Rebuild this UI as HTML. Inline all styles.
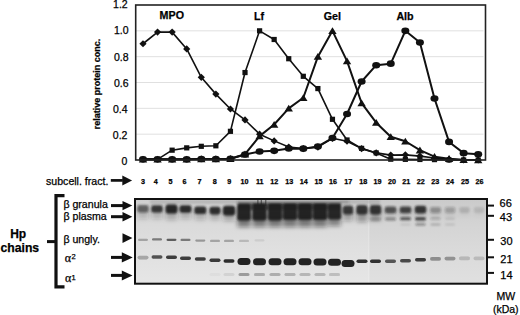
<!DOCTYPE html>
<html><head><meta charset="utf-8"><style>
html,body{margin:0;padding:0;background:#fff;}
body{width:520px;height:315px;position:relative;overflow:hidden;font-family:"Liberation Sans",sans-serif;color:#000;-webkit-text-stroke:0.25px #000;}
.abs{position:absolute;white-space:nowrap;}
.yl{position:absolute;font-size:10.5px;line-height:13px;text-align:right;}
.xl{position:absolute;top:176.9px;width:20px;text-align:center;font-size:7.2px;font-weight:bold;line-height:10px;}
.lbl{position:absolute;font-size:10.7px;font-weight:bold;line-height:13px;}
.mw{position:absolute;font-size:11px;line-height:12px;}
.gl{position:absolute;font-size:10.6px;line-height:12px;white-space:nowrap;}
.gk{position:absolute;font-family:"Liberation Serif",serif;font-size:12px;line-height:12px;}
.sp{position:absolute;font-size:7.5px;line-height:12px;}
.ytitle{position:absolute;left:97.2px;top:84px;transform:translate(-50%,-50%) rotate(-90deg);font-size:9px;font-weight:bold;white-space:nowrap;}
</style></head><body>
<svg class="abs" style="left:0;top:0" width="520" height="170" viewBox="0 0 520 170">
<line x1="135.7" y1="134.17" x2="483.5" y2="134.17" stroke="#e0e0e0" stroke-width="1"/>
<line x1="135.7" y1="108.33" x2="483.5" y2="108.33" stroke="#e0e0e0" stroke-width="1"/>
<line x1="135.7" y1="82.50" x2="483.5" y2="82.50" stroke="#e0e0e0" stroke-width="1"/>
<line x1="135.7" y1="56.67" x2="483.5" y2="56.67" stroke="#e0e0e0" stroke-width="1"/>
<line x1="135.7" y1="30.83" x2="483.5" y2="30.83" stroke="#e0e0e0" stroke-width="1"/>
<polyline points="142.99,43.75 157.56,32.12 172.14,32.12 186.71,48.92 201.29,77.33 215.86,94.12 230.44,108.98 245.01,119.96 259.59,134.17 274.16,140.88 288.74,147.08 303.31,148.63 317.89,147.08 332.46,138.30 347.04,141.27 361.61,148.63 376.19,152.90 390.76,155.09 405.34,154.83 419.91,156.12 434.49,158.06 449.06,159.35 463.64,160.00 478.21,160.00" fill="none" stroke="#111" stroke-width="1.6" stroke-linejoin="round"/>
<polyline points="142.99,159.35 157.56,159.35 172.14,150.18 186.71,147.86 201.29,146.31 215.86,145.79 230.44,131.32 245.01,72.55 259.59,30.83 274.16,39.49 288.74,58.73 303.31,76.30 317.89,88.57 332.46,119.31 347.04,139.98 361.61,148.38 376.19,152.90 390.76,159.22 405.34,159.35 419.91,159.48 434.49,159.61 449.06,160.00 463.64,160.00 478.21,160.00" fill="none" stroke="#111" stroke-width="1.6" stroke-linejoin="round"/>
<polyline points="142.99,159.35 157.56,159.35 172.14,159.35 186.71,159.35 201.29,158.97 215.86,158.97 230.44,158.71 245.01,154.19 259.59,136.10 274.16,124.48 288.74,108.33 303.31,97.74 317.89,56.67 332.46,30.83 347.04,61.06 361.61,103.04 376.19,122.67 390.76,136.75 405.34,141.27 419.91,150.18 434.49,156.64 449.06,158.71 463.64,159.74 478.21,160.00" fill="none" stroke="#111" stroke-width="2.0" stroke-linejoin="round"/>
<polyline points="142.99,159.35 157.56,159.35 172.14,159.35 186.71,159.35 201.29,158.97 215.86,158.97 230.44,158.71 245.01,154.57 259.59,151.47 274.16,150.83 288.74,148.50 303.31,148.63 317.89,146.44 332.46,138.04 347.04,114.02 361.61,81.47 376.19,65.19 390.76,63.64 405.34,30.83 419.91,42.46 434.49,98.52 449.06,141.92 463.64,153.15 478.21,154.32" fill="none" stroke="#111" stroke-width="2.0" stroke-linejoin="round"/>
<path d="M142.99 40.15L146.59 43.75L142.99 47.35L139.39 43.75Z" fill="#111"/>
<path d="M157.56 28.52L161.16 32.12L157.56 35.73L153.96 32.12Z" fill="#111"/>
<path d="M172.14 28.52L175.74 32.12L172.14 35.73L168.54 32.12Z" fill="#111"/>
<path d="M186.71 45.32L190.31 48.92L186.71 52.52L183.11 48.92Z" fill="#111"/>
<path d="M201.29 73.73L204.89 77.33L201.29 80.93L197.69 77.33Z" fill="#111"/>
<path d="M215.86 90.53L219.46 94.12L215.86 97.72L212.26 94.12Z" fill="#111"/>
<path d="M230.44 105.38L234.04 108.98L230.44 112.58L226.84 108.98Z" fill="#111"/>
<path d="M245.01 116.36L248.61 119.96L245.01 123.56L241.41 119.96Z" fill="#111"/>
<path d="M259.59 130.57L263.19 134.17L259.59 137.77L255.99 134.17Z" fill="#111"/>
<path d="M274.16 137.28L277.76 140.88L274.16 144.48L270.56 140.88Z" fill="#111"/>
<path d="M288.74 143.48L292.34 147.08L288.74 150.68L285.14 147.08Z" fill="#111"/>
<path d="M303.31 145.03L306.91 148.63L303.31 152.23L299.71 148.63Z" fill="#111"/>
<path d="M317.89 143.48L321.49 147.08L317.89 150.68L314.29 147.08Z" fill="#111"/>
<path d="M332.46 134.70L336.06 138.30L332.46 141.90L328.86 138.30Z" fill="#111"/>
<path d="M347.04 137.67L350.64 141.27L347.04 144.87L343.44 141.27Z" fill="#111"/>
<path d="M361.61 145.03L365.21 148.63L361.61 152.23L358.01 148.63Z" fill="#111"/>
<path d="M376.19 149.30L379.79 152.90L376.19 156.50L372.59 152.90Z" fill="#111"/>
<path d="M390.76 151.49L394.36 155.09L390.76 158.69L387.16 155.09Z" fill="#111"/>
<path d="M405.34 151.23L408.94 154.83L405.34 158.43L401.74 154.83Z" fill="#111"/>
<path d="M419.91 152.53L423.51 156.12L419.91 159.72L416.31 156.12Z" fill="#111"/>
<path d="M434.49 154.46L438.09 158.06L434.49 161.66L430.89 158.06Z" fill="#111"/>
<path d="M449.06 155.75L452.66 159.35L449.06 162.95L445.46 159.35Z" fill="#111"/>
<path d="M463.64 156.40L467.24 160.00L463.64 163.60L460.04 160.00Z" fill="#111"/>
<path d="M478.21 156.40L481.81 160.00L478.21 163.60L474.61 160.00Z" fill="#111"/>
<rect x="140.39" y="156.75" width="5.2" height="5.2" fill="#111"/>
<rect x="154.96" y="156.75" width="5.2" height="5.2" fill="#111"/>
<rect x="169.54" y="147.58" width="5.2" height="5.2" fill="#111"/>
<rect x="184.11" y="145.26" width="5.2" height="5.2" fill="#111"/>
<rect x="198.69" y="143.71" width="5.2" height="5.2" fill="#111"/>
<rect x="213.26" y="143.19" width="5.2" height="5.2" fill="#111"/>
<rect x="227.84" y="128.72" width="5.2" height="5.2" fill="#111"/>
<rect x="242.41" y="69.95" width="5.2" height="5.2" fill="#111"/>
<rect x="256.99" y="28.23" width="5.2" height="5.2" fill="#111"/>
<rect x="271.56" y="36.89" width="5.2" height="5.2" fill="#111"/>
<rect x="286.14" y="56.13" width="5.2" height="5.2" fill="#111"/>
<rect x="300.71" y="73.70" width="5.2" height="5.2" fill="#111"/>
<rect x="315.29" y="85.97" width="5.2" height="5.2" fill="#111"/>
<rect x="329.86" y="116.71" width="5.2" height="5.2" fill="#111"/>
<rect x="344.44" y="137.38" width="5.2" height="5.2" fill="#111"/>
<rect x="359.01" y="145.78" width="5.2" height="5.2" fill="#111"/>
<rect x="373.59" y="150.30" width="5.2" height="5.2" fill="#111"/>
<rect x="388.16" y="156.62" width="5.2" height="5.2" fill="#111"/>
<rect x="402.74" y="156.75" width="5.2" height="5.2" fill="#111"/>
<rect x="417.31" y="156.88" width="5.2" height="5.2" fill="#111"/>
<rect x="431.89" y="157.01" width="5.2" height="5.2" fill="#111"/>
<rect x="446.46" y="157.40" width="5.2" height="5.2" fill="#111"/>
<rect x="461.04" y="157.40" width="5.2" height="5.2" fill="#111"/>
<rect x="475.61" y="157.40" width="5.2" height="5.2" fill="#111"/>
<path d="M142.99 155.75L147.19 162.55L138.79 162.55Z" fill="#111"/>
<path d="M157.56 155.75L161.76 162.55L153.36 162.55Z" fill="#111"/>
<path d="M172.14 155.75L176.34 162.55L167.94 162.55Z" fill="#111"/>
<path d="M186.71 155.75L190.91 162.55L182.51 162.55Z" fill="#111"/>
<path d="M201.29 155.37L205.49 162.17L197.09 162.17Z" fill="#111"/>
<path d="M215.86 155.37L220.06 162.17L211.66 162.17Z" fill="#111"/>
<path d="M230.44 155.11L234.64 161.91L226.24 161.91Z" fill="#111"/>
<path d="M245.01 150.59L249.21 157.39L240.81 157.39Z" fill="#111"/>
<path d="M259.59 132.50L263.79 139.30L255.39 139.30Z" fill="#111"/>
<path d="M274.16 120.88L278.36 127.68L269.96 127.68Z" fill="#111"/>
<path d="M288.74 104.73L292.94 111.53L284.54 111.53Z" fill="#111"/>
<path d="M303.31 94.14L307.51 100.94L299.11 100.94Z" fill="#111"/>
<path d="M317.89 53.07L322.09 59.87L313.69 59.87Z" fill="#111"/>
<path d="M332.46 27.23L336.66 34.03L328.26 34.03Z" fill="#111"/>
<path d="M347.04 57.46L351.24 64.26L342.84 64.26Z" fill="#111"/>
<path d="M361.61 99.44L365.81 106.24L357.41 106.24Z" fill="#111"/>
<path d="M376.19 119.07L380.39 125.87L371.99 125.87Z" fill="#111"/>
<path d="M390.76 133.15L394.96 139.95L386.56 139.95Z" fill="#111"/>
<path d="M405.34 137.67L409.54 144.47L401.14 144.47Z" fill="#111"/>
<path d="M419.91 146.58L424.11 153.38L415.71 153.38Z" fill="#111"/>
<path d="M434.49 153.04L438.69 159.84L430.29 159.84Z" fill="#111"/>
<path d="M449.06 155.11L453.26 161.91L444.86 161.91Z" fill="#111"/>
<path d="M463.64 156.14L467.84 162.94L459.44 162.94Z" fill="#111"/>
<path d="M478.21 156.40L482.41 163.20L474.01 163.20Z" fill="#111"/>
<ellipse cx="142.99" cy="159.35" rx="4" ry="3.3" fill="#111"/>
<ellipse cx="157.56" cy="159.35" rx="4" ry="3.3" fill="#111"/>
<ellipse cx="172.14" cy="159.35" rx="4" ry="3.3" fill="#111"/>
<ellipse cx="186.71" cy="159.35" rx="4" ry="3.3" fill="#111"/>
<ellipse cx="201.29" cy="158.97" rx="4" ry="3.3" fill="#111"/>
<ellipse cx="215.86" cy="158.97" rx="4" ry="3.3" fill="#111"/>
<ellipse cx="230.44" cy="158.71" rx="4" ry="3.3" fill="#111"/>
<ellipse cx="245.01" cy="154.57" rx="4" ry="3.3" fill="#111"/>
<ellipse cx="259.59" cy="151.47" rx="4" ry="3.3" fill="#111"/>
<ellipse cx="274.16" cy="150.83" rx="4" ry="3.3" fill="#111"/>
<ellipse cx="288.74" cy="148.50" rx="4" ry="3.3" fill="#111"/>
<ellipse cx="303.31" cy="148.63" rx="4" ry="3.3" fill="#111"/>
<ellipse cx="317.89" cy="146.44" rx="4" ry="3.3" fill="#111"/>
<ellipse cx="332.46" cy="138.04" rx="4" ry="3.3" fill="#111"/>
<ellipse cx="347.04" cy="114.02" rx="4" ry="3.3" fill="#111"/>
<ellipse cx="361.61" cy="81.47" rx="4" ry="3.3" fill="#111"/>
<ellipse cx="376.19" cy="65.19" rx="4" ry="3.3" fill="#111"/>
<ellipse cx="390.76" cy="63.64" rx="4" ry="3.3" fill="#111"/>
<ellipse cx="405.34" cy="30.83" rx="4" ry="3.3" fill="#111"/>
<ellipse cx="419.91" cy="42.46" rx="4" ry="3.3" fill="#111"/>
<ellipse cx="434.49" cy="98.52" rx="4" ry="3.3" fill="#111"/>
<ellipse cx="449.06" cy="141.92" rx="4" ry="3.3" fill="#111"/>
<ellipse cx="463.64" cy="153.15" rx="4" ry="3.3" fill="#111"/>
<ellipse cx="478.21" cy="154.32" rx="4" ry="3.3" fill="#111"/>
<rect x="135.7" y="5.0" width="349.8" height="155.0" fill="none" stroke="#222" stroke-width="1.6"/>
</svg>
<div class="yl" style="top:-2.1px;right:392.3px">1.2</div><div class="yl" style="top:24.1px;right:391.4px">1.0</div><div class="yl" style="top:50.7px;right:391.4px">0.8</div><div class="yl" style="top:77.2px;right:391.4px">0.6</div><div class="yl" style="top:103.3px;right:392.4px">0.4</div><div class="yl" style="top:129.2px;right:392.6px">0.2</div><div class="yl" style="top:155.4px;right:392.6px">0</div>
<div class="ytitle">relative protein conc.</div>
<div class="lbl" style="left:159.6px;top:9.2px">MPO</div>
<div class="lbl" style="left:254px;top:9.9px">Lf</div>
<div class="lbl" style="left:323.8px;top:9.8px">Gel</div>
<div class="lbl" style="left:396.4px;top:9.8px">Alb</div>
<div class="abs" style="left:46px;top:174.7px;font-size:10.6px;line-height:13px;">subcell. fract.</div>
<div class="xl" style="left:133.0px">3</div><div class="xl" style="left:145.7px">4</div><div class="xl" style="left:160.6px">5</div><div class="xl" style="left:174.6px">6</div><div class="xl" style="left:189.4px">7</div><div class="xl" style="left:204.8px">8</div><div class="xl" style="left:219.2px">9</div><div class="xl" style="left:234.6px">10</div><div class="xl" style="left:249.7px">11</div><div class="xl" style="left:264.2px">12</div><div class="xl" style="left:279.3px">13</div><div class="xl" style="left:293.8px">14</div><div class="xl" style="left:308.6px">15</div><div class="xl" style="left:323.1px">16</div><div class="xl" style="left:338.2px">17</div><div class="xl" style="left:353.2px">18</div><div class="xl" style="left:367.6px">19</div><div class="xl" style="left:381.9px">20</div><div class="xl" style="left:396.2px">21</div><div class="xl" style="left:410.8px">22</div><div class="xl" style="left:425.3px">23</div><div class="xl" style="left:439.9px">24</div><div class="xl" style="left:455.0px">25</div><div class="xl" style="left:469.5px">26</div>
<svg class="abs" style="left:0;top:0" width="520" height="315" viewBox="0 0 520 315">
<defs><filter id="bf" x="-50%" y="-50%" width="200%" height="200%"><feGaussianBlur stdDeviation="0.9"/></filter><filter id="bf3" x="-50%" y="-50%" width="200%" height="200%"><feGaussianBlur stdDeviation="2"/></filter><filter id="bf2" x="-50%" y="-50%" width="200%" height="200%"><feGaussianBlur stdDeviation="0.6"/></filter><linearGradient id="bg" x1="0" y1="0" x2="0" y2="1"><stop offset="0" stop-color="#cfcfcf"/><stop offset="0.3" stop-color="#dadada"/><stop offset="0.6" stop-color="#e0e0e0"/><stop offset="1" stop-color="#e6e6e6"/></linearGradient></defs>
<rect x="135" y="199" width="352" height="85" fill="url(#bg)"/>
<rect x="369.3" y="199" width="117.7" height="85" fill="#000" fill-opacity="0.025"/>
<line x1="368.8" y1="199" x2="368.8" y2="284" stroke="#fff" stroke-opacity="0.25" stroke-width="1"/>
<g filter="url(#bf3)" fill="#1c1c1c">
<rect x="137.8" y="208.5" width="10.5" height="10.5" fill-opacity="0.18"/>
<rect x="151.8" y="208.5" width="10.5" height="10.5" fill-opacity="0.2"/>
<rect x="166.0" y="209.5" width="11" height="10.5" fill-opacity="0.25"/>
<rect x="180.0" y="208.8" width="11" height="10.2" fill-opacity="0.22"/>
<rect x="194.8" y="210.0" width="11" height="10.0" fill-opacity="0.22"/>
<rect x="210.0" y="210.5" width="10" height="9.5" fill-opacity="0.22"/>
<rect x="223.2" y="211.5" width="11.5" height="9.5" fill-opacity="0.28"/>
<rect x="237.5" y="216.5" width="13" height="10.5" fill-opacity="0.5"/>
<rect x="252.8" y="216.5" width="13.5" height="10.5" fill-opacity="0.5"/>
<rect x="268.2" y="216.5" width="13.5" height="10.5" fill-opacity="0.5"/>
<rect x="283.2" y="216.0" width="13.5" height="11.0" fill-opacity="0.5"/>
<rect x="298.2" y="216.0" width="13.5" height="11.0" fill-opacity="0.5"/>
<rect x="313.2" y="216.0" width="13.5" height="11.0" fill-opacity="0.5"/>
<rect x="328.2" y="215.5" width="12.5" height="10.5" fill-opacity="0.45"/>
<rect x="343.2" y="210.5" width="9.5" height="10.5" fill-opacity="0.3"/>
<rect x="356.8" y="210.5" width="10.5" height="11.5" fill-opacity="0.35"/>
<rect x="370.2" y="210.5" width="10.5" height="10.5" fill-opacity="0.3"/>
<rect x="385.2" y="209.3" width="10.5" height="6.7" fill-opacity="0.2"/>
<rect x="400.2" y="209.3" width="10.5" height="6.7" fill-opacity="0.2"/>
<rect x="415.2" y="209.5" width="10.5" height="6.5" fill-opacity="0.2"/>
<rect x="430.5" y="209.0" width="10" height="7.0" fill-opacity="0.1"/>
<rect x="445.2" y="209.0" width="9.5" height="7.0" fill-opacity="0.08"/>
<rect x="459.8" y="209.0" width="9.5" height="7.0" fill-opacity="0.04"/>
<rect x="474.2" y="209.0" width="9.5" height="7.0" fill-opacity="0.03"/>
</g><g filter="url(#bf)" fill="#1c1c1c">
<rect x="238" y="203" width="103" height="7" fill-opacity="0.55"/>
<rect x="150" y="200" width="230" height="4" fill-opacity="0.12"/>
<rect x="237" y="200" width="112" height="4" fill-opacity="0.2"/>
<rect x="137.2" y="205.0" width="11.5" height="7.5" rx="2.3" fill-opacity="0.6"/>
<rect x="151.2" y="205.3" width="11.5" height="7.2" rx="2.2" fill-opacity="0.86"/>
<rect x="165.5" y="204.5" width="12" height="9.0" rx="2.8" fill-opacity="0.95"/>
<rect x="179.5" y="205.3" width="12" height="7.5" rx="2.3" fill-opacity="0.92"/>
<rect x="194.3" y="206.5" width="12" height="7.5" rx="2.3" fill-opacity="0.9"/>
<rect x="209.5" y="206.8" width="11" height="7.7" rx="2.4" fill-opacity="0.9"/>
<rect x="222.8" y="205.8" width="12.5" height="9.7" rx="3.0" fill-opacity="0.95"/>
<rect x="237.0" y="203.5" width="14" height="17.0" rx="2.8" fill-opacity="0.96"/>
<rect x="252.2" y="203.0" width="14.5" height="17.5" rx="2.8" fill-opacity="0.97"/>
<rect x="267.8" y="203.0" width="14.5" height="17.5" rx="2.8" fill-opacity="0.97"/>
<rect x="282.8" y="203.0" width="14.5" height="17.0" rx="2.8" fill-opacity="0.97"/>
<rect x="297.8" y="203.0" width="14.5" height="17.0" rx="2.8" fill-opacity="0.97"/>
<rect x="312.8" y="203.0" width="14.5" height="17.0" rx="2.8" fill-opacity="0.97"/>
<rect x="327.8" y="203.5" width="13.5" height="16.0" rx="2.8" fill-opacity="0.95"/>
<rect x="342.8" y="205.5" width="10.5" height="9.0" rx="2.8" fill-opacity="0.82"/>
<rect x="356.2" y="205.0" width="11.5" height="9.5" rx="3.0" fill-opacity="0.88"/>
<rect x="369.8" y="205.0" width="11.5" height="9.5" rx="3.0" fill-opacity="0.88"/>
<rect x="384.8" y="206.5" width="11.5" height="6.8" rx="2.1" fill-opacity="0.68"/>
<rect x="399.8" y="206.5" width="11.5" height="6.8" rx="2.1" fill-opacity="0.76"/>
<rect x="414.8" y="205.8" width="11.5" height="7.7" rx="2.4" fill-opacity="0.84"/>
<rect x="430.0" y="207.0" width="11" height="6.0" rx="1.9" fill-opacity="0.32"/>
<rect x="444.8" y="207.0" width="10.5" height="6.0" rx="1.9" fill-opacity="0.24"/>
<rect x="459.2" y="207.0" width="10.5" height="6.0" rx="1.9" fill-opacity="0.13"/>
<rect x="473.8" y="207.0" width="10.5" height="6.0" rx="1.9" fill-opacity="0.1"/>
<rect x="370.2" y="218.1" width="10.5" height="2.4" rx="1.2" fill-opacity="0.3"/>
<rect x="385.0" y="217.7" width="11" height="2.8" rx="1.4" fill-opacity="0.45"/>
<rect x="400.0" y="217.3" width="11" height="3" rx="1.5" fill-opacity="0.68"/>
<rect x="415.0" y="217.2" width="11" height="3.2" rx="1.6" fill-opacity="0.82"/>
<rect x="430.5" y="217.4" width="10" height="2.4" rx="1.2" fill-opacity="0.28"/>
<rect x="445.0" y="217.5" width="10" height="2.2" rx="1.1" fill-opacity="0.12"/>
<rect x="415.5" y="223.3" width="10" height="2.2" rx="1.1" fill-opacity="0.45"/>
<rect x="430.5" y="223.6" width="10" height="2" rx="1.0" fill-opacity="0.22"/>
<rect x="445.0" y="223.6" width="10" height="2" rx="1.0" fill-opacity="0.12"/>
<rect x="400.5" y="223.5" width="10" height="2" rx="1.0" fill-opacity="0.1"/>
</g><g filter="url(#bf2)" fill="#1c1c1c">
<rect x="138.0" y="238.7" width="10" height="2.3" rx="1.15" fill-opacity="0.3"/>
<rect x="152.0" y="238.3" width="10" height="2.3" rx="1.15" fill-opacity="0.52"/>
<rect x="166.5" y="238.7" width="10" height="2.3" rx="1.15" fill-opacity="0.66"/>
<rect x="180.5" y="238.8" width="10" height="2.3" rx="1.15" fill-opacity="0.5"/>
<rect x="195.3" y="239.4" width="10" height="2.3" rx="1.15" fill-opacity="0.36"/>
<rect x="210.0" y="239.8" width="10" height="2.3" rx="1.15" fill-opacity="0.3"/>
<rect x="224.0" y="239.8" width="10" height="2.3" rx="1.15" fill-opacity="0.3"/>
<rect x="239.0" y="239.8" width="10" height="2.3" rx="1.15" fill-opacity="0.2"/>
<rect x="254.5" y="239.3" width="10" height="2.3" rx="1.15" fill-opacity="0.08"/>
<rect x="137.5" y="255.8" width="11" height="3.6" rx="1.8" fill-opacity="0.3"/>
<rect x="151.5" y="255.2" width="11" height="3.6" rx="1.8" fill-opacity="0.72"/>
<rect x="166.0" y="255.5" width="11" height="3.6" rx="1.8" fill-opacity="0.82"/>
<rect x="180.0" y="256.5" width="11" height="3.6" rx="1.8" fill-opacity="0.82"/>
<rect x="194.8" y="257.2" width="11" height="3.6" rx="1.8" fill-opacity="0.82"/>
<rect x="209.5" y="258.5" width="11" height="3.6" rx="1.8" fill-opacity="0.86"/>
<rect x="223.5" y="259.2" width="11" height="3.6" rx="1.8" fill-opacity="0.92"/>
<rect x="237.5" y="258.0" width="13" height="7" rx="3.5" fill-opacity="0.97"/>
<rect x="253.0" y="258.3" width="13" height="7" rx="3.5" fill-opacity="0.97"/>
<rect x="268.5" y="258.3" width="13" height="7" rx="3.5" fill-opacity="0.97"/>
<rect x="283.5" y="258.3" width="13" height="7" rx="3.5" fill-opacity="0.97"/>
<rect x="298.5" y="258.3" width="13" height="7" rx="3.5" fill-opacity="0.97"/>
<rect x="313.5" y="258.5" width="13" height="7" rx="3.5" fill-opacity="0.97"/>
<rect x="328.0" y="258.7" width="13" height="7" rx="3.5" fill-opacity="0.97"/>
<rect x="341.5" y="260.0" width="13" height="7" rx="3.5" fill-opacity="0.97"/>
<rect x="356.5" y="259.5" width="11" height="3.6" rx="1.8" fill-opacity="0.9"/>
<rect x="370.0" y="259.5" width="11" height="3.6" rx="1.8" fill-opacity="0.9"/>
<rect x="385.0" y="259.5" width="11" height="3.6" rx="1.8" fill-opacity="0.7"/>
<rect x="400.0" y="259.0" width="11" height="3.6" rx="1.8" fill-opacity="0.76"/>
<rect x="415.0" y="258.0" width="11" height="3.6" rx="1.8" fill-opacity="0.85"/>
<rect x="430.0" y="257.1" width="11" height="3.6" rx="1.8" fill-opacity="0.4"/>
<rect x="444.5" y="256.8" width="11" height="3.6" rx="1.8" fill-opacity="0.38"/>
<rect x="459.0" y="256.6" width="11" height="3.6" rx="1.8" fill-opacity="0.2"/>
<rect x="473.5" y="256.6" width="11" height="3.6" rx="1.8" fill-opacity="0.15"/>
<rect x="209.5" y="272.9" width="11" height="3" rx="1.5" fill-opacity="0.03"/>
<rect x="223.5" y="272.9" width="11" height="3" rx="1.5" fill-opacity="0.08"/>
<rect x="238.5" y="272.9" width="11" height="3" rx="1.5" fill-opacity="0.36"/>
<rect x="254.0" y="272.9" width="11" height="3" rx="1.5" fill-opacity="0.28"/>
<rect x="269.5" y="272.9" width="11" height="3" rx="1.5" fill-opacity="0.28"/>
<rect x="284.5" y="272.9" width="11" height="3" rx="1.5" fill-opacity="0.26"/>
<rect x="299.5" y="272.9" width="11" height="3" rx="1.5" fill-opacity="0.24"/>
<rect x="314.5" y="272.9" width="11" height="3" rx="1.5" fill-opacity="0.24"/>
<rect x="329.0" y="272.9" width="11" height="3" rx="1.5" fill-opacity="0.2"/>
</g>
<line x1="257.9" y1="200" x2="257.9" y2="206" stroke="#222" stroke-width="1" stroke-opacity="0.7"/>
<line x1="261.3" y1="200" x2="261.3" y2="206" stroke="#222" stroke-width="1" stroke-opacity="0.7"/>
<line x1="265.8" y1="200" x2="265.8" y2="206" stroke="#222" stroke-width="1" stroke-opacity="0.7"/>
<rect x="135" y="199" width="352" height="84.7" fill="none" stroke="#111" stroke-width="2"/>
<line x1="487" y1="205.6" x2="494" y2="205.6" stroke="#111" stroke-width="2"/>
<line x1="487" y1="215.8" x2="494" y2="215.8" stroke="#111" stroke-width="2"/>
<line x1="487" y1="239.8" x2="494" y2="239.8" stroke="#111" stroke-width="2"/>
<line x1="487" y1="257.3" x2="494" y2="257.3" stroke="#111" stroke-width="2"/>
<line x1="487" y1="272.9" x2="494" y2="272.9" stroke="#111" stroke-width="2"/>
<rect x="110.8" y="179.05" width="12.00" height="2.7" fill="#111"/><path d="M122.3 175.40L132.1 180.40L122.3 185.40Z" fill="#111"/>
<rect x="111" y="204.10" width="12.00" height="3" fill="#111"/><path d="M122.5 200.90L132.3 205.60L122.5 210.30Z" fill="#111"/>
<rect x="111" y="215.20" width="12.00" height="3" fill="#111"/><path d="M122.5 212.00L132.3 216.70L122.5 221.40Z" fill="#111"/>
<path d="M122.5 233.3L132.4 238.1L122.5 242.9Z" fill="#111"/>
<rect x="111" y="255.90" width="11.30" height="3" fill="#111"/><path d="M121.8 252.20L132.7 257.40L121.8 262.60Z" fill="#111"/>
<rect x="111" y="273.90" width="11.30" height="3" fill="#111"/><path d="M121.8 270.40L132.5 275.40L121.8 280.40Z" fill="#111"/>
<path d="M64.5 195.7H56V286.9H64.5" fill="none" stroke="#111" stroke-width="3.2"/>
<line x1="47" y1="241.6" x2="56" y2="241.6" stroke="#111" stroke-width="3"/>
</svg>
<div class="mw" style="left:499.6px;top:197.1px">66</div>
<div class="mw" style="left:499.8px;top:210.9px">43</div>
<div class="mw" style="left:500.3px;top:235px">30</div>
<div class="mw" style="left:500.3px;top:252.6px">21</div>
<div class="mw" style="left:500.3px;top:269.3px">14</div>
<div class="abs" style="left:496.6px;top:290px;font-size:10.5px;line-height:12px;">MW</div>
<div class="abs" style="left:492.9px;top:302.7px;font-size:10.5px;line-height:12px;">(kDa)</div>
<div class="abs" style="left:10.2px;top:227.1px;font-size:12px;font-weight:bold;line-height:14px;">Hp</div>
<div class="abs" style="left:0.5px;top:241.3px;font-size:12.2px;font-weight:bold;line-height:14px;">chains</div>
<div class="gl" style="left:63.4px;top:198.2px">&beta; granula</div>
<div class="gl" style="left:63.5px;top:209.8px">&beta; plasma</div>
<div class="gl" style="left:63.4px;top:233px">&beta; ungly.</div>
<div class="gk" style="left:64.8px;top:252.4px">&alpha;</div><div class="sp" style="left:71.5px;top:250.6px">2</div>
<div class="gk" style="left:65px;top:271.9px">&alpha;</div><div class="sp" style="left:71.6px;top:271.6px">1</div>
</body></html>
